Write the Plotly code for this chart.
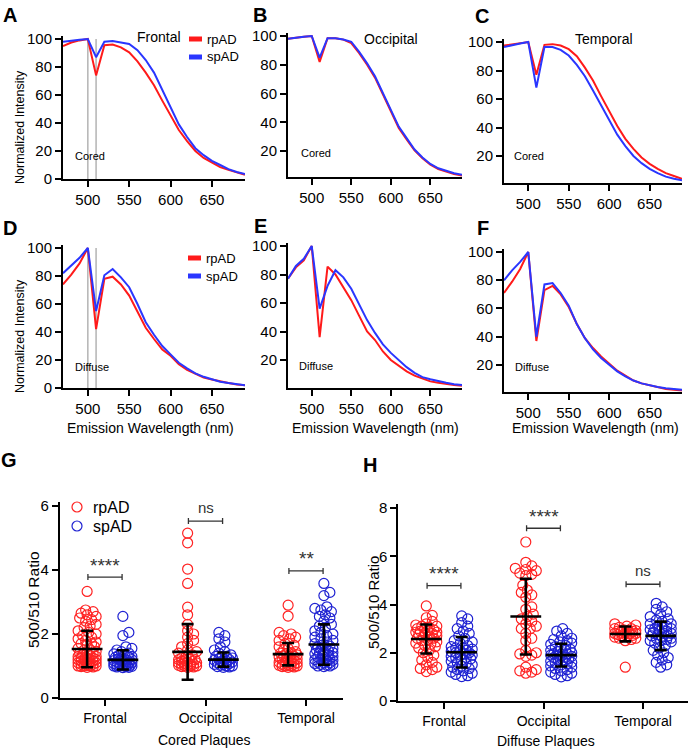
import plotly.graph_objects as go

W, H = 690, 750
FONT = "Liberation Sans, Arial, sans-serif"
RED = "#ff1a1a"
BLUE = "#2a36ff"
RED_PT = "#ff2323"
BLUE_PT = "#1f22d2"

# ---------------- spectra data ----------------
wavelength = [470, 480, 490, 500, 510, 520, 530, 540, 550, 560, 570, 580,
              590, 600, 610, 620, 630, 640, 650, 660, 670, 680, 690]
A_rpAD = [95, 97.5, 99, 100, 74, 95.5, 96, 94, 90.5, 84, 76, 67, 56, 45.5, 35, 27, 20, 15, 11.5, 8.5, 6.5, 4.5, 3]
A_spAD = [98, 99, 99.5, 100, 87, 98, 98.5, 97.5, 96.5, 92, 85, 76, 64, 51, 39, 30, 22, 17, 13, 10, 7, 5, 3.5]
B_rpAD = [98, 99, 99.5, 100, 82, 98.5, 98.5, 97.5, 95, 88, 80, 71, 59, 47, 36, 28, 20.5, 15, 10.5, 7.5, 5.5, 4, 3]
B_spAD = [98, 99, 99.5, 100, 85, 98.5, 98.5, 97.5, 96, 89, 81, 72, 60, 48, 37, 29, 21, 15.5, 11, 8, 6, 4.5, 3.5]
C_rpAD = [97.5, 98.5, 99.5, 100, 77, 98, 98.5, 97.5, 95, 90, 82, 73, 62, 51, 41, 32, 25, 19, 14.5, 11, 8, 6, 4]
C_spAD = [96.5, 98, 99, 100, 68, 96.5, 96.5, 94.5, 90.5, 84, 76, 66, 55.5, 45, 35, 27, 20, 15, 11, 8, 5.5, 4, 3]
D_rpAD = [74, 81, 89, 100, 42, 78, 79.5, 74, 66, 55, 43, 35, 27.5, 23, 17, 13, 10, 7.5, 6, 4.5, 3.5, 2.5, 2]
D_spAD = [82, 87.5, 93, 100, 55, 80.5, 85, 79, 72, 60, 47, 38, 30, 24, 18, 14, 10.5, 8, 6, 4.5, 3.5, 2.5, 2]
E_rpAD = [77, 85, 90, 100, 36, 85.5, 80, 71, 62, 51, 40, 34, 26, 20, 16, 12, 9, 7, 5, 4, 3, 2.5, 2]
E_spAD = [77, 86, 91, 100, 56, 72, 83, 78, 70, 59, 48, 39, 31, 25, 20, 15, 11, 8, 6.5, 5, 4, 3, 2.5]
F_rpAD = [71, 79, 88, 100, 37, 73, 76, 70, 61, 49, 39, 32, 26, 21, 16, 12.5, 9, 7, 5.5, 4, 3, 2.5, 2]
F_spAD = [80, 87, 93, 100, 40, 77, 78, 71, 62, 49, 39, 31, 25, 20, 15.5, 12, 9, 7, 5.5, 4.5, 3.5, 3, 2.5]
marker_wavelengths = [500, 510]

spectra_x_ticks = [500, 550, 600, 650]
full_y_ticks = [0, 20, 40, 60, 80, 100]
part_y_ticks = [20, 40, 60, 80, 100]

# ---------------- ratio data ----------------
regions = ["Frontal", "Occipital", "Temporal"]
G_rpAD = [
    [3.33, 2.75, 2.7, 2.65, 2.6, 2.55, 2.5, 2.45, 2.4, 2.3, 2.25, 2.2, 2.1, 2.05, 2.0, 1.95, 1.9, 1.85, 1.8,
     1.75, 1.7, 1.7, 1.65, 1.6, 1.55, 1.5, 1.5, 1.45, 1.4, 1.4, 1.35, 1.3, 1.3, 1.25, 1.25, 1.2, 1.2, 1.15,
     1.15, 1.1, 1.1, 1.1, 1.05, 1.05, 1.05, 1.0, 1.0, 1.0, 1.0, 0.98, 0.97, 0.96, 1.02, 1.08, 1.12, 1.18,
     1.22, 1.28, 1.32, 1.38],
    [5.15, 4.85, 4.03, 3.58, 2.84, 2.6, 2.3, 2.1, 2.0, 1.9, 1.8, 1.7, 1.6, 1.5, 1.45, 1.4, 1.35, 1.3, 1.25,
     1.2, 1.2, 1.15, 1.1, 1.1, 1.05, 1.05, 1.0, 1.0, 1.0, 0.98, 0.97, 1.02, 1.08, 1.12, 1.18, 1.22, 0.96,
     1.03, 1.06, 1.14],
    [2.9, 2.56, 2.05, 2.0, 1.95, 1.9, 1.85, 1.8, 1.7, 1.65, 1.6, 1.55, 1.5, 1.45, 1.4, 1.35, 1.3, 1.3, 1.25,
     1.2, 1.2, 1.15, 1.1, 1.1, 1.05, 1.05, 1.0, 1.0, 1.0, 0.98, 0.97, 1.02, 1.08, 1.12, 1.18, 1.22, 1.28,
     1.32, 1.38, 1.42, 0.96, 1.03],
]
G_spAD = [
    [2.55, 2.05, 1.95, 1.6, 1.55, 1.5, 1.45, 1.4, 1.38, 1.35, 1.3, 1.28, 1.25, 1.22, 1.2, 1.18, 1.15, 1.12,
     1.1, 1.1, 1.08, 1.05, 1.05, 1.02, 1.0, 1.0, 0.98, 0.97, 0.96, 0.95, 1.0, 1.03, 1.07, 1.13, 1.17, 1.23,
     1.27, 1.33, 1.0, 0.99],
    [2.05, 1.95, 1.85, 1.75, 1.6, 1.5, 1.45, 1.4, 1.35, 1.3, 1.3, 1.25, 1.2, 1.2, 1.15, 1.1, 1.1, 1.05,
     1.05, 1.0, 1.0, 0.98, 0.97, 1.02, 1.08, 1.12, 1.18, 1.22, 1.28, 0.96],
    [3.58, 3.3, 3.2, 2.85, 2.8, 2.75, 2.7, 2.6, 2.55, 2.5, 2.4, 2.3, 2.25, 2.2, 2.1, 2.05, 2.0, 1.95, 1.9,
     1.85, 1.8, 1.75, 1.7, 1.65, 1.6, 1.55, 1.5, 1.45, 1.4, 1.35, 1.3, 1.25, 1.2, 1.2, 1.15, 1.1, 1.1, 1.05,
     1.05, 1.0, 1.0, 0.98, 1.02, 1.08, 1.12, 1.18, 1.22, 1.28, 1.32, 1.38, 1.42, 1.48, 1.52, 1.58, 1.62],
]
G_mean_rpAD = [1.53, 1.44, 1.37]
G_sd_rpAD = [0.57, 0.87, 0.35]
G_mean_spAD = [1.19, 1.20, 1.67]
G_sd_spAD = [0.30, 0.22, 0.63]
G_sig = ["****", "ns", "**"]
G_bracket_y = [3.78, 5.53, 3.97]

H_rpAD = [
    [3.94, 3.55, 3.45, 3.3, 3.2, 3.15, 3.1, 3.05, 3.0, 2.95, 2.9, 2.85, 2.8, 2.8, 2.75, 2.7, 2.65, 2.6, 2.55,
     2.5, 2.45, 2.4, 2.35, 2.3, 2.25, 2.2, 2.1, 2.0, 1.9, 1.8, 1.7, 1.6, 1.5, 1.4, 1.35, 1.3, 1.22, 2.9, 3.0,
     2.7, 2.6, 3.1, 2.85],
    [6.59, 5.75, 5.6, 5.5, 5.45, 5.4, 5.3, 5.25, 5.2, 4.8, 4.6, 4.5, 4.4, 3.9, 3.8, 3.6, 3.4, 3.3, 3.2, 3.1,
     3.0, 3.0, 2.6, 2.5, 2.1, 2.0, 1.95, 1.9, 1.85, 1.4, 1.3, 1.25, 1.2, 1.15, 2.8, 3.5, 4.3],
    [1.4, 2.5, 2.55, 2.6, 2.65, 2.7, 2.72, 2.75, 2.78, 2.8, 2.82, 2.85, 2.88, 2.9, 2.92, 2.95, 3.0, 3.05,
     3.1, 3.15, 3.2, 2.6, 2.7, 2.8, 2.9, 3.0],
]
H_spAD = [
    [3.53, 3.4, 3.25, 3.1, 3.0, 2.9, 2.8, 2.7, 2.6, 2.5, 2.45, 2.4, 2.3, 2.25, 2.2, 2.15, 2.1, 2.05, 2.0,
     1.95, 1.9, 1.85, 1.8, 1.75, 1.7, 1.65, 1.6, 1.55, 1.5, 1.45, 1.4, 1.35, 1.3, 1.25, 1.2, 1.15, 1.1,
     1.05, 1.01, 2.0, 1.9, 1.8, 2.1, 2.2],
    [3.0, 2.9, 2.8, 2.7, 2.6, 2.55, 2.5, 2.45, 2.4, 2.35, 2.3, 2.25, 2.2, 2.15, 2.1, 2.05, 2.0, 1.95, 1.9,
     1.85, 1.8, 1.75, 1.7, 1.65, 1.6, 1.55, 1.5, 1.45, 1.4, 1.35, 1.3, 1.25, 1.2, 1.15, 1.1, 1.05, 1.0,
     1.9, 1.8, 2.0, 1.7, 2.1, 1.6, 1.85, 1.95],
    [4.05, 3.9, 3.8, 3.7, 3.6, 3.5, 3.4, 3.35, 3.3, 3.2, 3.1, 3.05, 3.0, 2.95, 2.9, 2.85, 2.8, 2.75, 2.7,
     2.65, 2.6, 2.55, 2.5, 2.45, 2.4, 2.3, 2.2, 2.1, 2.0, 1.9, 1.8, 1.7, 1.6, 1.5, 1.4, 3.0, 2.9, 2.8, 2.7,
     2.6, 3.1, 3.2, 2.5],
]
H_mean_rpAD = [2.57, 3.50, 2.78]
H_sd_rpAD = [0.60, 1.57, 0.31]
H_mean_spAD = [2.02, 1.90, 2.70]
H_sd_spAD = [0.63, 0.47, 0.59]
H_sig = ["****", "****", "ns"]
H_bracket_y = [4.78, 7.16, 4.84]

# ---------------- helpers ----------------
def xdom(v0, p0, v1, p1, lo, hi):
    s = (p1 - p0) / (v1 - v0)
    return [(p0 + (lo - v0) * s) / W, (p0 + (hi - v0) * s) / W]


def ydom(v0, p0, v1, p1, lo, hi):
    s = (p1 - p0) / (v1 - v0)
    return [1 - (p0 + (lo - v0) * s) / H, 1 - (p0 + (hi - v0) * s) / H]


def axis_style(size=15):
    return dict(showline=True, linecolor="black", linewidth=2, ticks="outside", ticklen=6,
                tickwidth=2, tickcolor="black", showgrid=False, zeroline=False, automargin=False,
                tickfont=dict(size=size, color="black", family=FONT))


fig = go.Figure()
layout = {}
annotations = []
shapes = []


def ann(text, xp, yp, size, xanchor="center", yanchor="middle", angle=0, bold=False, color="black"):
    annotations.append(dict(
        text=("<b>%s</b>" % text) if bold else text, x=xp / W, y=1 - yp / H, xref="paper", yref="paper",
        xanchor=xanchor, yanchor=yanchor, showarrow=False, textangle=angle,
        font=dict(size=size, color=color, family=FONT)))


spectra_panels = [
    (1, 63, 245, (100, 39, 0, 179), 0, full_y_ticks, A_rpAD, A_spAD),
    (2, 288, 462, (100, 36, 20, 151), 2, part_y_ticks, B_rpAD, B_spAD),
    (3, 504, 682, (100, 42, 20, 156), 1, part_y_ticks, C_rpAD, C_spAD),
    (4, 63, 245, (100, 248, 0, 388), 0, full_y_ticks, D_rpAD, D_spAD),
    (5, 288, 462, (100, 246, 20, 360), 0.4, part_y_ticks, E_rpAD, E_spAD),
    (6, 504, 682, (100, 252, 20, 365), 1, part_y_ticks, F_rpAD, F_spAD),
]
YTOP = 102
for pid, x0p, x1p, yc, ylo, yt, rp, sp in spectra_panels:
    sfx = "" if pid == 1 else str(pid)
    xa = axis_style()
    xa.update(domain=xdom(470, x0p, 690, x1p, 470, 690), range=[470, 690], tickvals=spectra_x_ticks,
              anchor="y" + sfx)
    ya = axis_style()
    ya.update(domain=ydom(yc[0], yc[1], yc[2], yc[3], ylo, YTOP), range=[ylo, YTOP], tickvals=yt,
              anchor="x" + sfx)
    layout["xaxis" + sfx] = xa
    layout["yaxis" + sfx] = ya
    if pid in (1, 4):
        for wl in marker_wavelengths:
            shapes.append(dict(type="line", xref="x" + sfx, yref="y" + sfx, x0=wl, x1=wl, y0=0, y1=100,
                               line=dict(color="#b8b8b8", width=1.6), layer="below"))
    fig.add_trace(go.Scatter(x=wavelength, y=rp, mode="lines", line=dict(color=RED, width=2),
                             xaxis="x" + sfx, yaxis="y" + sfx, showlegend=False))
    fig.add_trace(go.Scatter(x=wavelength, y=sp, mode="lines", line=dict(color=BLUE, width=2),
                             xaxis="x" + sfx, yaxis="y" + sfx, showlegend=False))


def swarm(vals, xs, ys, maxhalf, mind=6.0, step=1.5):
    order = sorted(range(len(vals)), key=lambda k: vals[k])
    cands = [0.0]
    k = 1
    while k * step <= maxhalf:
        cands += [k * step, -k * step]
        k += 1
    placed = []
    offs = [0.0] * len(vals)
    for idx in order:
        yp = vals[idx] * ys
        best, bestd = 0.0, -1
        for c in cands:
            d = min([((c - px) ** 2 + (yp - py) ** 2) ** 0.5 for px, py in placed] or [1e9])
            if d >= mind:
                best = c
                break
            if d > bestd:
                bestd, best = d, c
        offs[idx] = best
        placed.append((best, yp))
    return [o / xs for o in offs]


ratio_panels = [
    (7, (0, 105, 1, 205.5), (-0.45, 2.37), (6, 506, 0, 698), 6.12, [0, 2, 4, 6], G_rpAD, G_spAD,
     G_mean_rpAD, G_sd_rpAD, G_mean_spAD, G_sd_spAD, G_sig, G_bracket_y, 9),
    (8, (0, 444, 1, 543.5), (-0.46, 2.45), (8, 508, 0, 701), 8.15, [0, 2, 4, 6, 8], H_rpAD, H_spAD,
     H_mean_rpAD, H_sd_rpAD, H_mean_spAD, H_sd_spAD, H_sig, H_bracket_y, 11),
]
OFF = 0.178
for (pid, xc, xr, yc, ytop, yt, rp, sp, mrp, srp, msp, ssp, sig, by, mh) in ratio_panels:
    sfx = str(pid)
    xs = (xc[3] - xc[1]) / (xc[2] - xc[0])
    ys = abs((yc[3] - yc[1]) / (yc[0] - yc[2]))
    xa = axis_style(14)
    xa.update(domain=xdom(xc[0], xc[1], xc[2], xc[3], xr[0], xr[1]), range=list(xr), tickvals=[0, 1, 2],
              ticktext=regions, anchor="y" + sfx)
    ya = axis_style(15)
    ya.update(domain=ydom(yc[0], yc[1], yc[2], yc[3], 0, ytop), range=[0, ytop], tickvals=yt,
              anchor="x" + sfx)
    layout["xaxis" + sfx] = xa
    layout["yaxis" + sfx] = ya
    for gi in range(3):
        for vals, sign, col in ((rp[gi], -1, RED_PT), (sp[gi], 1, BLUE_PT)):
            offs = swarm(vals, xs, ys, mh)
            fig.add_trace(go.Scatter(
                x=[gi + sign * OFF + o for o in offs], y=vals, mode="markers",
                marker=dict(symbol="circle-open", size=10, color=col, line=dict(width=1.2, color=col)),
                xaxis="x" + sfx, yaxis="y" + sfx, showlegend=False))
        fig.add_trace(go.Scatter(
            x=[gi - OFF, gi + OFF], y=[mrp[gi], msp[gi]], mode="markers",
            marker=dict(symbol="line-ew", size=22, color="black", line=dict(width=2.6, color="black")),
            error_y=dict(type="data", array=[srp[gi], ssp[gi]], thickness=2.6, width=6, color="black"),
            xaxis="x" + sfx, yaxis="y" + sfx, showlegend=False))
        h = 3.0 / ys
        bx0, bx1 = gi - 0.17, gi + 0.17
        for seg in ((bx0, by[gi], bx1, by[gi]), (bx0, by[gi] - h, bx0, by[gi] + h),
                    (bx1, by[gi] - h, bx1, by[gi] + h)):
            shapes.append(dict(type="line", xref="x" + sfx, yref="y" + sfx, x0=seg[0], y0=seg[1],
                               x1=seg[2], y1=seg[3], line=dict(color="#333333", width=1.3)))
        txt = sig[gi]
        is_star = "*" in txt
        annotations.append(dict(
            text=txt, x=gi, y=by[gi] + (12 if is_star else 14) / ys, xref="x" + sfx, yref="y" + sfx,
            xanchor="center", yanchor="middle", showarrow=False,
            font=dict(size=19 if is_star else 15, color="#333333", family=FONT)))

# ---------------- text & legends ----------------
for letter, xp, yp in (("A", 10, 15), ("B", 260, 15), ("C", 482, 16), ("D", 10, 228), ("E", 260, 226),
                       ("F", 483, 228), ("G", 9, 460), ("H", 370, 465)):
    ann(letter, xp, yp, 20, bold=True)

ann("Frontal", 159, 37, 14)
ann("Occipital", 391, 39, 14)
ann("Temporal", 604, 39, 14)
for xp, yp in ((73, 156), (299, 153), (512, 156)):
    ann("Cored", xp, yp, 11, xanchor="left")
for xp, yp in ((73, 367), (297, 366), (513, 367)):
    ann("Diffuse", xp, yp, 11, xanchor="left")
ann("Normalized Intensity", 20, 127, 12.5, angle=-90)
ann("Normalized Intensity", 20, 336, 12.5, angle=-90)
for xp in (150, 375, 595):
    ann("Emission Wavelength (nm)", xp, 428, 14)

for (sx, yr, ysp) in ((189, 39, 57), (188, 258, 276)):
    for yy, col, lab in ((yr, RED, "rpAD"), (ysp, BLUE, "spAD")):
        shapes.append(dict(type="rect", xref="paper", yref="paper", x0=sx / W, x1=(sx + 13) / W,
                           y0=1 - (yy + 2.5) / H, y1=1 - (yy - 2.5) / H, fillcolor=col,
                           line=dict(width=0)))
        ann(lab, sx + 16, yy, 13, xanchor="left")

for yy, col, lab in ((507, RED_PT, "rpAD"), (526, BLUE_PT, "spAD")):
    shapes.append(dict(type="circle", xref="paper", yref="paper", xsizemode="pixel", ysizemode="pixel",
                       xanchor=77 / W, yanchor=1 - yy / H, x0=-5, x1=5, y0=-5, y1=5,
                       line=dict(color=col, width=1.2)))
    ann(lab, 91, yy, 16, xanchor="left")

ann("500/510 Ratio", 33, 600, 15.5, angle=-90)
ann("Cored Plaques", 204, 740, 14)
ann("500/510 Ratio", 373, 603, 15, angle=-90)
ann("Diffuse Plaques", 546, 741, 14)

fig.update_layout(template="none", width=W, height=H,
                  margin=dict(l=0, r=0, t=0, b=0, pad=0, autoexpand=False),
                  paper_bgcolor="white", plot_bgcolor="white", showlegend=False,
                  font=dict(family=FONT, color="black"), hovermode=False,
                  annotations=annotations, shapes=shapes, **layout)
fig.write_html("out.html", config={"displayModeBar": False, "staticPlot": True},
               post_script="document.body.style.margin='0px';document.body.style.padding='0px';"
                           "document.body.style.overflow='hidden';")
